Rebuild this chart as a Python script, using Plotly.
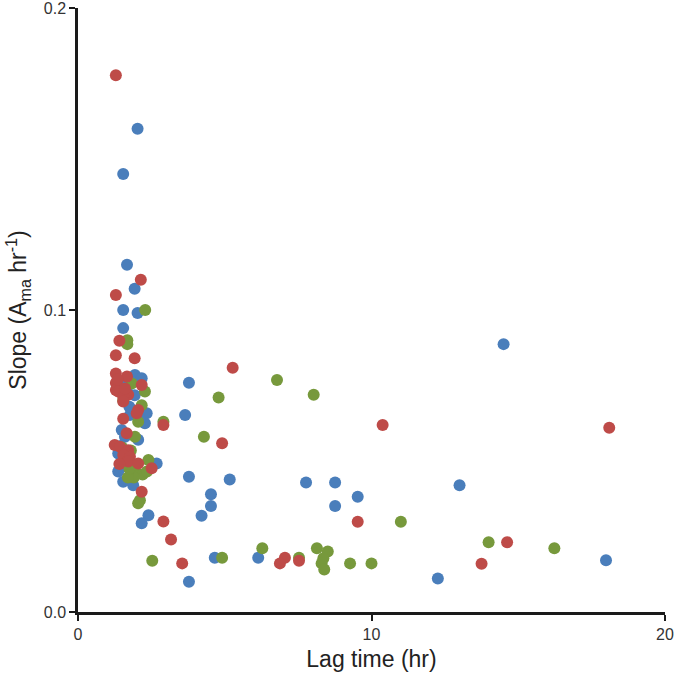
import plotly.graph_objects as go

# Series 1 (blue)
blue_x = [2.03, 1.54, 1.67, 1.93, 1.54, 2.03, 1.54, 1.94, 2.17, 1.93, 3.78, 1.77, 2.34, 2.28,
          3.65, 1.49, 2.05, 1.37, 1.49, 2.68, 1.37, 1.54, 1.88, 2.40, 2.17, 3.78, 5.17, 7.77,
          8.76, 4.53, 9.53, 4.53, 8.76, 4.21, 4.66, 6.14, 3.78, 12.26, 14.50, 13.00, 17.99,
          1.66, 1.45, 1.75, 2.10, 1.60, 1.45]
blue_y = [0.160, 0.145, 0.115, 0.107, 0.100, 0.099, 0.094, 0.0785, 0.0774, 0.0718, 0.0759,
          0.0652, 0.0658, 0.0625, 0.0652, 0.0603, 0.057, 0.0525, 0.048, 0.0492, 0.0465, 0.0431,
          0.042, 0.032, 0.0294, 0.0448, 0.0439, 0.0429, 0.0429, 0.039, 0.0382, 0.0351, 0.0351,
          0.0319, 0.018, 0.018, 0.010, 0.0111, 0.0887, 0.042, 0.0171,
          0.074, 0.055, 0.068, 0.064, 0.058, 0.076]

# Series 2 (green)
green_x = [2.29, 1.68, 1.68, 1.83, 2.28, 1.54, 2.17, 2.05, 2.91, 1.94, 2.40, 1.83, 2.00, 2.20,
           1.90, 2.35, 1.70, 1.75, 2.11, 2.05, 2.53, 4.79, 6.78, 8.03, 4.29, 4.91, 6.28, 8.14,
           8.51, 7.53, 8.36, 8.30, 8.39, 9.27, 10.00, 11.00, 13.99, 16.23, 1.50, 1.80]
green_y = [0.100, 0.090, 0.0887, 0.0757, 0.073, 0.070, 0.0685, 0.063, 0.063, 0.058, 0.0503,
           0.047, 0.046, 0.0455, 0.0445, 0.0465, 0.0445, 0.0475, 0.037, 0.036, 0.017, 0.071,
           0.0768, 0.0719, 0.058, 0.018, 0.0211, 0.0211, 0.020, 0.018, 0.0178, 0.0161, 0.0141,
           0.0161, 0.0161, 0.0299, 0.0231, 0.0211, 0.0545, 0.0535]

# Series 3 (red)
red_x = [1.29, 2.14, 1.29, 1.41, 1.29, 1.93, 5.27, 1.29, 1.67, 1.29, 1.29, 2.17, 1.37, 1.71,
         1.54, 1.54, 2.05, 2.00, 1.54, 2.91, 1.66, 1.25, 1.43, 1.71, 1.54, 1.77, 1.71, 2.05,
         1.41, 2.51, 2.17, 2.91, 3.17, 3.55, 4.91, 10.38, 9.53, 7.05, 6.88, 7.53, 18.10,
         14.62, 13.75, 1.35, 1.60]
red_y = [0.1777, 0.110, 0.105, 0.0898, 0.085, 0.084, 0.0809, 0.079, 0.078, 0.0758, 0.0735,
         0.0752, 0.073, 0.0719, 0.0713, 0.0697, 0.0669, 0.0658, 0.064, 0.0619, 0.0592, 0.0553,
         0.0547, 0.0536, 0.052, 0.0514, 0.0498, 0.0492, 0.049, 0.0476, 0.0398, 0.030, 0.024,
         0.0161, 0.0559, 0.0619, 0.0299, 0.018, 0.0161, 0.017, 0.061, 0.0231, 0.016, 0.077,
         0.074]

x_ticks = [0, 10, 20]
y_ticks = [0.0, 0.1, 0.2]

fig = go.Figure()
for xs, ys, col in [(blue_x, blue_y, "#4A7EBB"), (green_x, green_y, "#77993C"), (red_x, red_y, "#BE4B48")]:
    fig.add_trace(go.Scatter(x=xs, y=ys, mode="markers",
                             marker=dict(size=12, color=col, line=dict(width=0)),
                             showlegend=False))

axis_common = dict(showgrid=False, zeroline=False, showline=True, linecolor="#1a1a1a",
                   linewidth=2.5, ticks="outside", tickcolor="#1a1a1a", tickwidth=2, ticklen=6,
                   ticklabeloverflow="allow", automargin=False,
                   tickfont=dict(family="Liberation Sans, Arial", size=16, color="#333333"))

fig.update_layout(
    width=675, height=673,
    margin=dict(l=78, r=10, t=8, b=61),
    paper_bgcolor="white", plot_bgcolor="white",
    xaxis=dict(range=[0, 20], tickvals=x_ticks, ticktext=[str(v) for v in x_ticks],
               title=dict(text="Lag time (hr)", font=dict(family="Liberation Sans, Arial", size=23, color="#222222"), standoff=9),
               **axis_common),
    yaxis=dict(range=[0, 0.2], tickvals=y_ticks, ticktext=[f"{v:.1f}" for v in y_ticks],
               title=dict(text="Slope (A<sub>ma</sub> hr<sup>-1</sup>)", font=dict(family="Liberation Sans, Arial", size=23, color="#222222"), standoff=11),
               **axis_common),
)

fig.write_html("out.html", config={"displayModeBar": False},
               post_script="document.body.style.margin='0';")
